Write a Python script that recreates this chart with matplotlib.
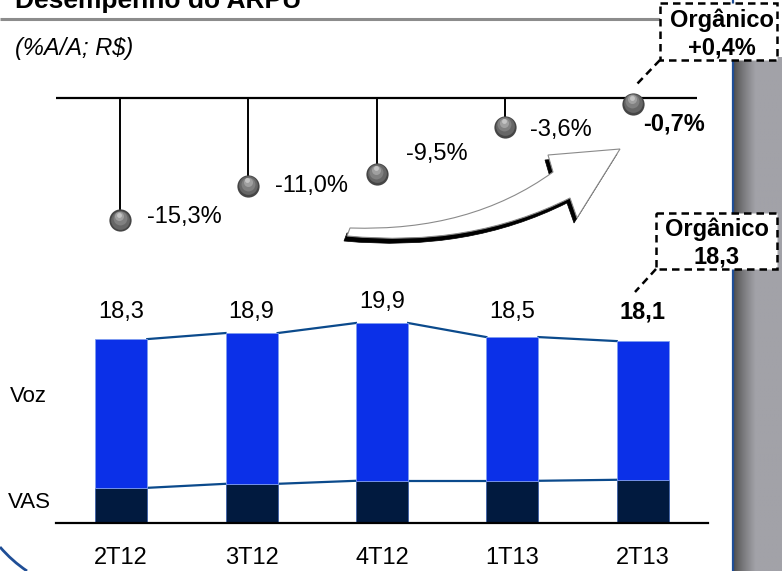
import numpy as np
import matplotlib.pyplot as plt
from matplotlib import transforms
from matplotlib.colors import LinearSegmentedColormap
from matplotlib.patches import Rectangle, PathPatch
from matplotlib.path import Path

plt.rcParams['font.family'] = ['Liberation Sans', 'DejaVu Sans']

# ARPU (R$) by quarter, split into VAS and voice
quarters = ['2T12', '3T12', '4T12', '1T13', '2T13']
arpu_total = [18.3, 18.9, 19.9, 18.5, 18.1]
arpu_vas = [3.5, 3.9, 4.2, 4.2, 4.3]
# year-over-year change (%)
yoy_change = [-15.3, -11.0, -9.5, -3.6, -0.7]
organic_yoy = 0.4
organic_arpu = 18.3

arpu_voz = [t - v for t, v in zip(arpu_total, arpu_vas)]


def br(v, pct=False, sign=False):
    s = ('{:+.1f}' if sign else '{:.1f}').format(v).replace('.', ',')
    return s + '%' if pct else s


W, H = 782, 571
fig = plt.figure(figsize=(W / 100, H / 100), dpi=100)


def px_box(x0, y0, x1, y1):
    # pixel box with top-left origin -> figure fraction rect
    return [x0 / W, 1 - y1 / H, (x1 - x0) / W, (y1 - y0) / H]


# background layer in pixel units
bg = fig.add_axes([0, 0, 1, 1])
bg.set_xlim(0, W)
bg.set_ylim(H, 0)
bg.axis('off')

bg.text(15, 8, 'Desempenho do ARPU', fontsize=19, fontweight='bold', va='baseline')
bg.plot([0, 660], [19, 19], color='#8c8c8c', lw=2.2, solid_capstyle='butt')
bg.text(15, 48, '(%A/A; R$)', fontsize=17, style='italic', va='center')

# right-hand side panel
grad = np.clip(np.linspace(0, 1, 60) / 0.45, 0, 1) ** 0.8
panel_cmap = LinearSegmentedColormap.from_list('panel', ['#4f4f4f', '#a2a2a8'])
bg.imshow(np.tile(grad, (10, 1)), cmap=panel_cmap, aspect='auto',
          extent=[734, 782, 571, 57], zorder=1)
bg.plot([732.5, 732.5], [0, 571], color='#1f4e96', lw=1.6, zorder=2)

# bottom-left arc
arc = Path([(0, 547), (12, 561), (27, 571)], [Path.MOVETO, Path.CURVE3, Path.CURVE3])
bg.add_patch(PathPatch(arc, fill=False, edgecolor='#1f4e96', lw=2))

bg.text(10, 397, 'Voz', fontsize=16, va='center')
bg.text(8, 502, 'VAS', fontsize=16, va='center')

# curved arrow with drop shadow
def curved_arrow(dx=0, dy=0):
    pts = [(350, 228), (470, 232), (553, 172), (548, 155), (620, 149),
           (577, 218), (570, 198), (470, 248), (347, 236), (350, 228)]
    codes = [Path.MOVETO, Path.CURVE3, Path.CURVE3, Path.LINETO, Path.LINETO,
             Path.LINETO, Path.LINETO, Path.CURVE3, Path.CURVE3, Path.CLOSEPOLY]
    return Path([(x + dx, y + dy) for x, y in pts], codes)


bg.add_patch(PathPatch(curved_arrow(-3, 5), facecolor='black', edgecolor='black', lw=0.5, zorder=3))
bg.add_patch(PathPatch(curved_arrow(), facecolor='white', edgecolor='#8a8a8a', lw=0.8, zorder=4))

# organic callouts
dash = (0, (3, 2))
bg.add_patch(Rectangle((660, 3), 117, 57, facecolor='white', edgecolor='black',
                       lw=1.8, linestyle=dash, zorder=5))
bg.plot([660, 637], [60, 84], color='black', lw=1.8, linestyle=dash, zorder=5)
bg.text(722, 20, 'Orgânico', fontsize=17, fontweight='bold', ha='center', va='center', zorder=6)
bg.text(722, 48, br(organic_yoy, pct=True, sign=True), fontsize=17, fontweight='bold',
        ha='center', va='center', zorder=6)

bg.add_patch(Rectangle((656, 213), 121, 56, facecolor='white', edgecolor='black',
                       lw=1.8, linestyle=dash, zorder=5))
bg.plot([656, 635], [269, 292], color='black', lw=1.8, linestyle=dash, zorder=5)
bg.text(717, 229, 'Orgânico', fontsize=17, fontweight='bold', ha='center', va='center', zorder=6)
bg.text(717, 257, br(organic_arpu), fontsize=17, fontweight='bold',
        ha='center', va='center', zorder=6)

# lollipop chart of yoy change
lp = fig.add_axes(px_box(56, 58, 697, 258))
lp.set_xlim(-0.5, 4.5)
lp.set_ylim(-20, 5)
lp.axis('off')
lp.patch.set_alpha(0)
xi = np.arange(len(quarters))
lp.axhline(0, color='black', lw=1.6)
lp.vlines(xi, yoy_change, 0, color='black', lw=1.4)

ball_layers = [('#454545', 16, 0, 0), ('#666666', 13.5, 0, 0.6),
               ('#808080', 10, -0.3, 1.8), ('#a0a0a0', 6.5, -0.5, 3.0),
               ('#c4c4c4', 3.5, -0.6, 4.2)]
for color, ms, ox, oy in ball_layers:
    tr = transforms.offset_copy(lp.transData, fig=fig, x=ox, y=oy, units='points')
    lp.plot(xi, yoy_change, 'o', color=color, ms=ms, mew=0, transform=tr, zorder=3)

label_offsets = [(19.4, 2.2), (19.4, 0), (20.9, 14.4), (18, -2.2), (7.2, -14.4)]
for i, v in enumerate(yoy_change):
    bold = i == len(yoy_change) - 1
    lp.annotate(br(v, pct=True), (i, v), xytext=label_offsets[i], textcoords='offset points',
                fontsize=17, fontweight='bold' if bold else 'normal', ha='left', va='center')

# stacked ARPU bars
ax = fig.add_axes(px_box(56, 273, 708, 523))
ax.set_xlim(-0.5, 4.5)
ax.set_ylim(0, 250 / 10.05)
ax.patch.set_alpha(0)
for s in ax.spines.values():
    s.set_visible(False)
ax.set_yticks([])
bw = 0.4
ax.bar(xi, arpu_vas, width=bw, color='#011a3f', edgecolor='#3b5fa8', lw=0.6, zorder=2)
ax.bar(xi, arpu_voz, bottom=arpu_vas, width=bw, color='#0b30e8', edgecolor='#7f9cf0', lw=0.6, zorder=2)
for i in range(len(quarters) - 1):
    x0, x1 = i + bw / 2, i + 1 - bw / 2
    ax.plot([x0, x1], [arpu_total[i], arpu_total[i + 1]], color='#0b4a8c', lw=1.6, zorder=1)
    ax.plot([x0, x1], [arpu_vas[i], arpu_vas[i + 1]], color='#0b4a8c', lw=1.6, zorder=1)
ax.axhline(0, color='black', lw=1.6, clip_on=False, zorder=3)
for i, t in enumerate(arpu_total):
    bold = i == len(arpu_total) - 1
    ax.text(i, max(21.0, t + 2.1), br(t), fontsize=17, ha='center', va='center',
            fontweight='bold' if bold else 'normal')
ax.set_xticks(xi, quarters, fontsize=17)
ax.tick_params(axis='x', length=0, pad=17)

fig.savefig('out.png', dpi=100)
